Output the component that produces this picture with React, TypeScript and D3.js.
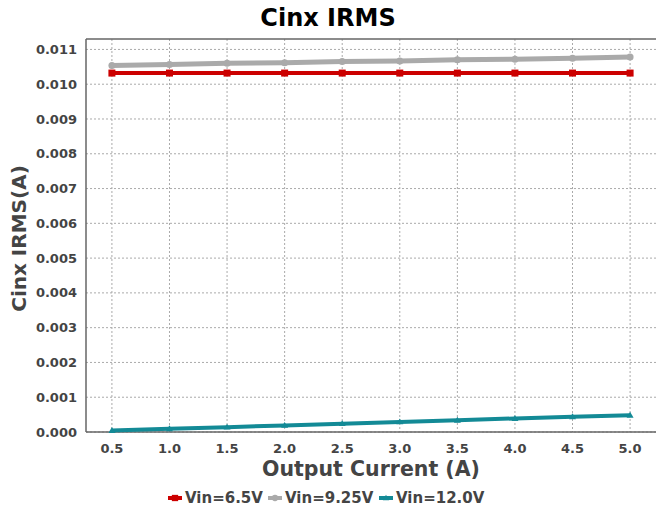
import React from "react";
import * as d3 from "d3";

const current = [0.5, 1.0, 1.5, 2.0, 2.5, 3.0, 3.5, 4.0, 4.5, 5.0];
const vin65 = [0.01032, 0.01032, 0.01032, 0.01032, 0.01032, 0.01032, 0.01032, 0.01032, 0.01032, 0.01032];
const vin925 = [0.01054, 0.01057, 0.0106, 0.01062, 0.01065, 0.01067, 0.0107, 0.01072, 0.01075, 0.01078];
const vin12 = [0.00004, 0.00009, 0.00014, 0.00019, 0.00024, 0.00029, 0.00034, 0.00039, 0.00044, 0.00048];
const seriesNames = ["Vin=6.5V", "Vin=9.25V", "Vin=12.0V"];
const seriesColors = ["#cc0000", "#aaaaaa", "#138a96"];
const xTicks = [0.5, 1.0, 1.5, 2.0, 2.5, 3.0, 3.5, 4.0, 4.5, 5.0];
const yTicks = [0, 0.001, 0.002, 0.003, 0.004, 0.005, 0.006, 0.007, 0.008, 0.009, 0.01, 0.011];

const W = 656, H = 515;
const L = 86, R = 656, T = 39, B = 432;
const FONT = "DejaVu Sans, sans-serif";
const TXT = "#444";

export default function App() {
  const x = d3.scaleLinear().domain([0.275, 5.225]).range([L, R]);
  const y = d3.scaleLinear().domain([0, 0.0113]).range([B, T]);
  const data = [vin65, vin925, vin12];
  const line = d3.line<number>().x((_, i) => x(current[i])).y((d) => y(d));
  const widths = [4, 5, 4];

  const marker = (k: number, cx: number, cy: number, key: string, scale = 1) => {
    const c = seriesColors[k];
    if (k === 0) return <rect key={key} x={cx - 3.5 * scale} y={cy - 3.5 * scale} width={7 * scale} height={7 * scale} fill={c} />;
    if (k === 1) return <circle key={key} cx={cx} cy={cy} r={3.5 * scale} fill={c} />;
    const s = 3.5 * scale;
    return <path key={key} d={`M${cx},${cy - s}L${cx + s},${cy + s * 0.7}L${cx - s},${cy + s * 0.7}Z`} fill={c} />;
  };

  const legendY = 498;
  const legendItems = [{ x: 168 }, { x: 268 }, { x: 379 }];

  return (
    <svg width={W} height={H} style={{ position: "absolute", left: 0, top: 0, background: "#fff" }} fontFamily={FONT}>
      <rect width={W} height={H} fill="#fff" />
      {xTicks.map((t) => (
        <line key={"gx" + t} x1={x(t)} x2={x(t)} y1={T} y2={B} stroke="#aaa" strokeWidth={1} strokeDasharray="2,2" />
      ))}
      {yTicks.map((t) => (
        <line key={"gy" + t} x1={L} x2={R} y1={y(t)} y2={y(t)} stroke="#aaa" strokeWidth={1} strokeDasharray="2,2" />
      ))}
      <line x1={L} x2={L} y1={T} y2={B} stroke="#666" strokeWidth={1.5} />
      <line x1={L} x2={R} y1={B} y2={B} stroke="#666" strokeWidth={1.5} />
      <line x1={L} x2={R} y1={T} y2={T} stroke="#666" strokeWidth={1.5} />
      {yTicks.map((t) => (
        <text key={"ty" + t} x={77} y={y(t)} dy="0.35em" textAnchor="end" fontSize={13} fontWeight="bold" fill={TXT}>
          {t.toFixed(3)}
        </text>
      ))}
      {xTicks.map((t) => (
        <text key={"tx" + t} x={x(t)} y={453} textAnchor="middle" fontSize={13} fontWeight="bold" fill={TXT}>
          {t.toFixed(1)}
        </text>
      ))}
      {data.map((d, k) => (
        <g key={"s" + k}>
          <path d={line(d) || ""} fill="none" stroke={seriesColors[k]} strokeWidth={widths[k]} />
          {d.map((v, i) => marker(k, x(current[i]), y(v), `m${k}-${i}`))}
        </g>
      ))}
      <text x={328} y={26} textAnchor="middle" fontSize={24} fontWeight="bold" fill="#000">Cinx IRMS</text>
      <text x={(L + R) / 2} y={476} textAnchor="middle" fontSize={20.5} fontWeight="bold" fill={TXT}>Output Current (A)</text>
      <text transform={`translate(26,${(T + B) / 2 + 3}) rotate(-90)`} textAnchor="middle" fontSize={20} fontWeight="bold" fill={TXT}>Cinx IRMS(A)</text>
      {legendItems.map((it, k) => (
        <g key={"lg" + k}>
          <line x1={it.x} x2={it.x + 14} y1={legendY} y2={legendY} stroke={seriesColors[k]} strokeWidth={4} />
          {marker(k, it.x + 7, legendY, "lm" + k, 0.9)}
          <text x={it.x + 17} y={legendY} dy="0.35em" fontSize={15} fontWeight="bold" fill={TXT}>{seriesNames[k]}</text>
        </g>
      ))}
    </svg>
  );
}
